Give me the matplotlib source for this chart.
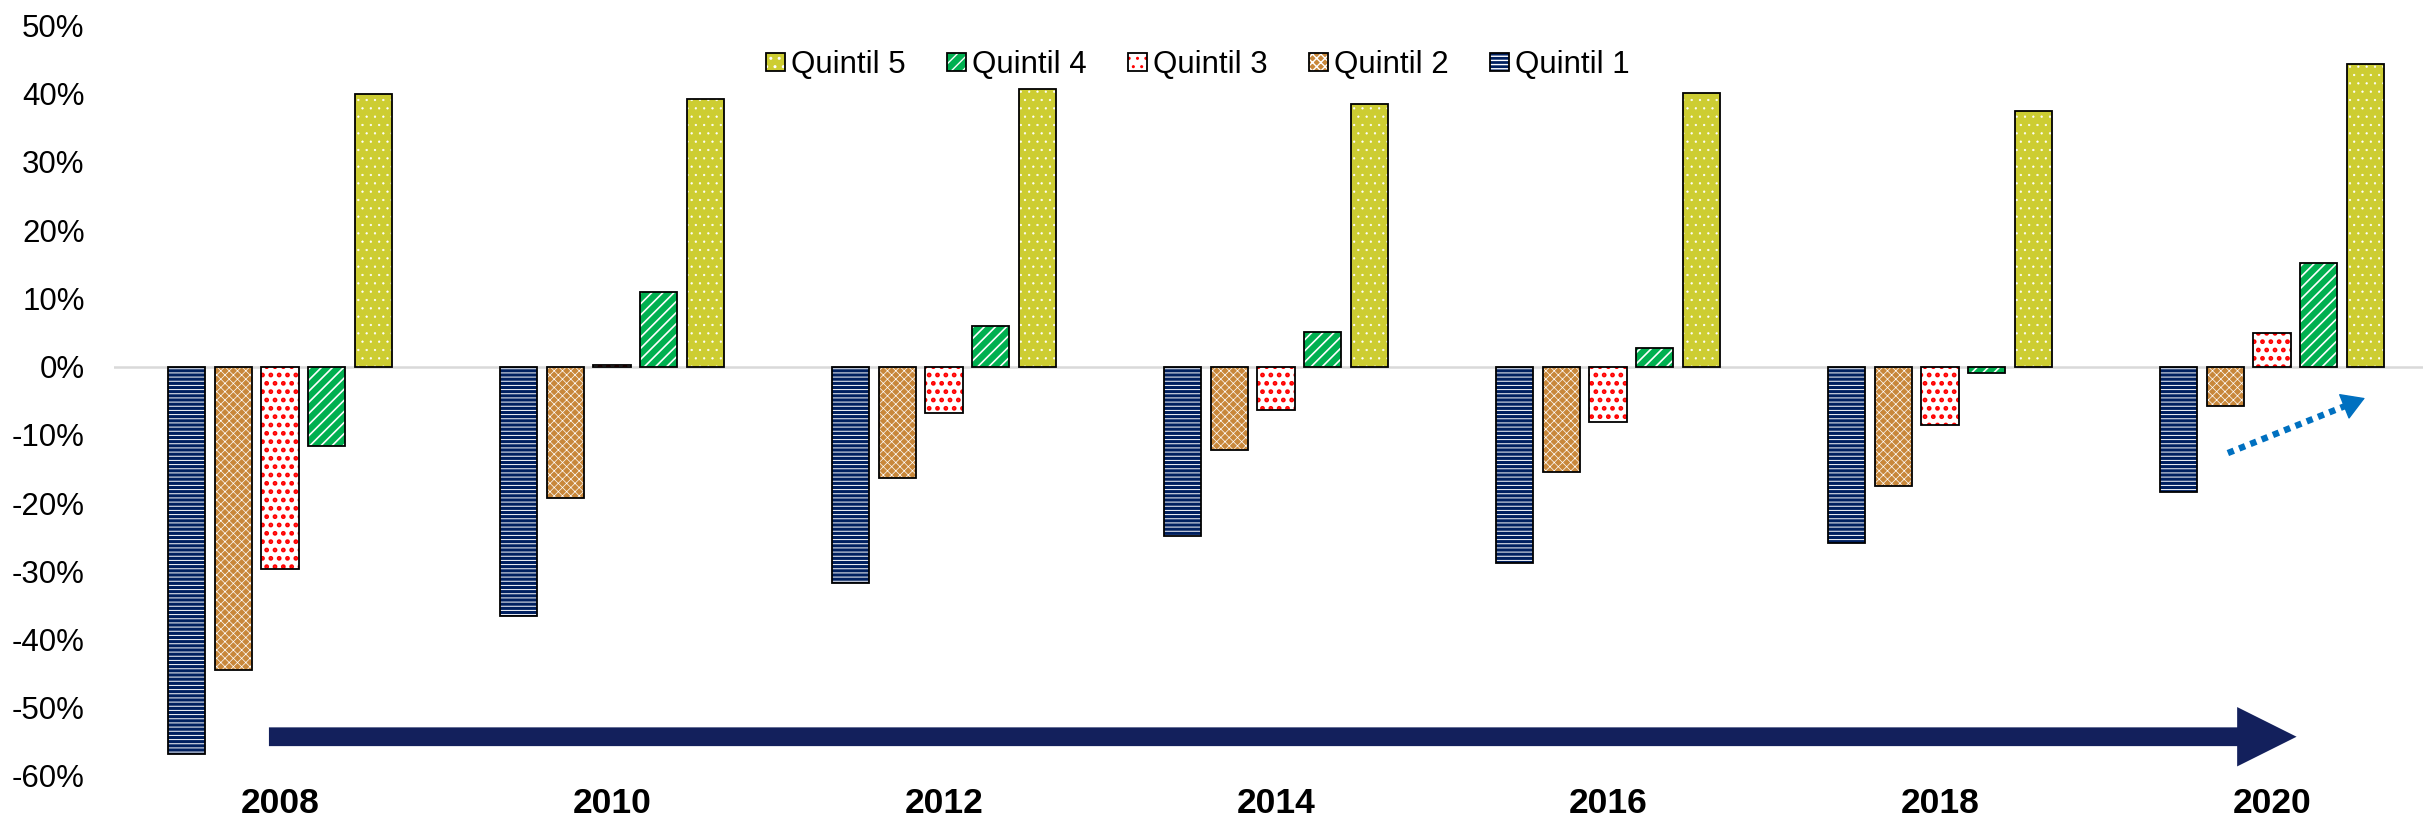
import numpy as np
import matplotlib
matplotlib.use("Agg")
import matplotlib.pyplot as plt
from matplotlib.patches import FancyArrow

plt.rcParams['font.family'] = ['Liberation Sans', 'DejaVu Sans']

years = ['2008', '2010', '2012', '2014', '2016', '2018', '2020']
q1 = [-56.8, -36.6, -31.7, -24.8, -28.8, -25.9, -18.4]
q2 = [-44.5, -19.3, -16.3, -12.2, -15.4, -17.5, -5.8]
q3 = [-29.7, 0.2, -6.8, -6.3, -8.2, -8.6, 4.9]
q4 = [-11.7, 10.9, 5.9, 5.0, 2.7, -0.9, 15.1]
q5 = [39.9, 39.2, 40.6, 38.5, 40.1, 37.4, 44.3]
names = ['Quintil 1', 'Quintil 2', 'Quintil 3', 'Quintil 4', 'Quintil 5']

# (face, hatch colour, hatch, hatch linewidth)
styles = [
    ('#002060', 'white', '----', 0.7),
    ('#C8873A', 'white', 'xxxx', 0.5),
    ('white', '#FF0000', '..', 2.2),
    ('#00B050', 'white', '///', 1.2),
    ('#CDCD32', 'white', '..', 0.4),
]

fig = plt.figure(figsize=(24.23, 8.36), dpi=100)
ax = fig.add_axes([0.047, 0.0718, 0.9592, 0.8979])

x = np.arange(len(years))
step = 0.1406
width = 0.1124
handles = []
for i, vals in enumerate([q1, q2, q3, q4, q5]):
    face, hc, hatch, hlw = styles[i]
    pos = x + (i - 2) * step
    b1 = ax.bar(pos, vals, width, color=face, edgecolor=hc, hatch=hatch, linewidth=0, zorder=2)
    for r in b1:
        r.set_hatch_linewidth(hlw)
    b2 = ax.bar(pos, vals, width, facecolor='none', edgecolor='black', linewidth=1.3, zorder=3)
    handles.append((b1[0], b2[0]))

ax.axhline(0, color='#D9D9D9', lw=1.8, zorder=1)

ax.set_xlim(-0.5, 6.5)
ax.set_ylim(-60, 50)
ax.set_yticks(np.arange(-60, 51, 10))
ax.set_yticklabels([f'{v}%' for v in range(-60, 51, 10)], fontsize=22.5)
ax.set_xticks(x)
ax.set_xticklabels(years, fontsize=25.5, fontweight='bold')
ax.tick_params(axis='y', length=0, pad=21)
ax.tick_params(axis='x', length=0, pad=8)
for s in ax.spines.values():
    s.set_visible(False)

# big trend arrow
ax.add_patch(FancyArrow(-0.033, -54.25, 6.107, 0, width=2.75, head_width=8.7,
                        head_length=0.179, length_includes_head=True,
                        color='#13205C', lw=0, zorder=4))

# dotted blue arrow near 2020
start = np.array([5.867, -12.68])
tip = np.array([6.280, -4.62])
base = tip - 0.13 * (tip - start)
ax.plot([start[0], base[0]], [start[1], base[1]], color='#0070C0', lw=4.6,
        linestyle=(0, (1, 0.9)), dash_capstyle='butt', zorder=4)
ax.annotate('', xy=tip, xytext=base,
            arrowprops=dict(arrowstyle='-|>,head_length=0.75,head_width=0.45',
                            mutation_scale=20, color='#0070C0', lw=1,
                            shrinkA=0, shrinkB=0))

leg = fig.legend(handles[::-1], names[::-1], loc='center', ncol=5,
                 bbox_to_anchor=(0.4944, 0.922), frameon=False, fontsize=22.5,
                 handlelength=0.6, handleheight=0.54, handletextpad=0.19,
                 columnspacing=1.33)

fig.savefig('out.png', dpi=100)
